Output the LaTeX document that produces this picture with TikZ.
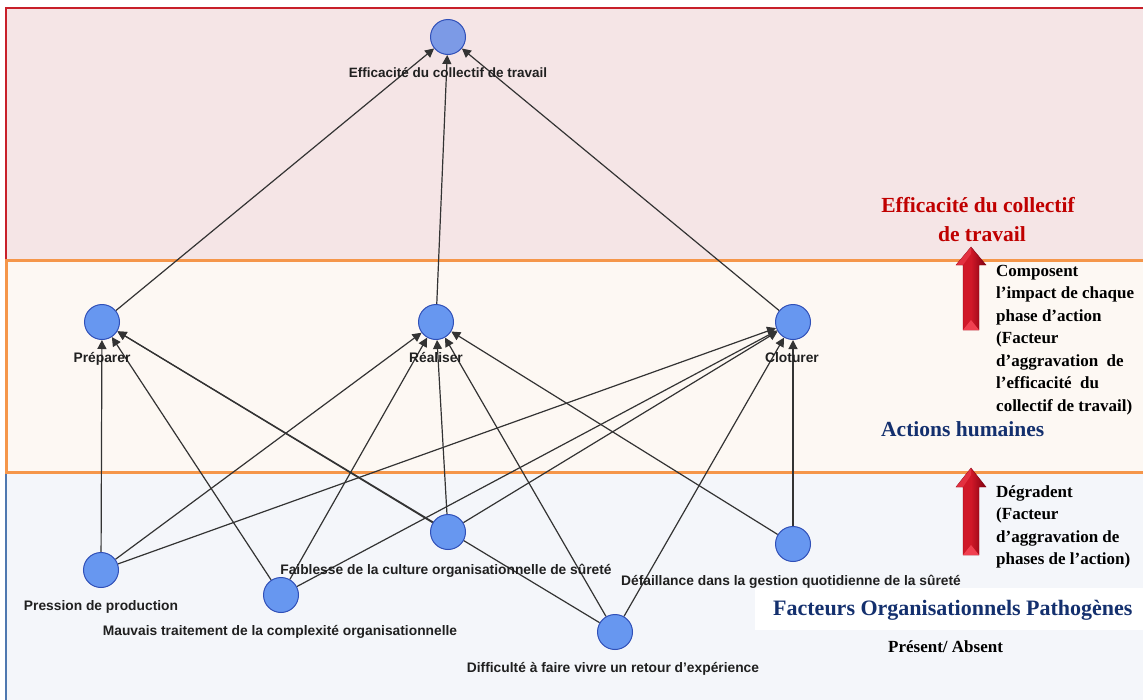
\documentclass[tikz,border=0pt]{standalone}
\usepackage{fontspec}
\setmainfont{Liberation Serif}
\newfontfamily\lblfont{Liberation Sans}
\usetikzlibrary{arrows.meta}
\pgfdeclarelayer{bands}
\pgfdeclarelayer{edges}
\pgfsetlayers{bands,edges,main}
\definecolor{redline}{HTML}{C8202A}
\definecolor{pinkfill}{HTML}{F5E5E6}
\definecolor{orline}{HTML}{F5964A}
\definecolor{orfill}{HTML}{FDF8F3}
\definecolor{blueline}{HTML}{4F78B0}
\definecolor{bluefill}{HTML}{F4F6FA}
\definecolor{nodefill}{HTML}{6797F0}
\definecolor{topfill}{HTML}{7C9AE6}
\definecolor{nodeborder}{HTML}{3050B8}
\definecolor{edgegray}{HTML}{333333}
\definecolor{lblgray}{HTML}{202020}
\definecolor{titlered}{HTML}{C00000}
\definecolor{navy}{HTML}{14306E}
\definecolor{arrdark}{HTML}{800010}
\definecolor{arrmid}{HTML}{D01828}
\definecolor{arrlight}{HTML}{F04050}
\tikzset{
  fnode/.style={circle, draw=nodeborder, fill=nodefill, line width=1pt, minimum size=35pt, inner sep=0pt},
  lbl/.style={font=\lblfont\bfseries\fontsize{13.8}{15}\selectfont, text=lblgray, inner sep=0pt, anchor=base},
  edge/.style={draw=edgegray, line width=1.2pt, -{Triangle[length=9pt,width=9pt]}},
  rtext/.style={font=\bfseries\fontsize{17}{22.5}\selectfont, align=left, inner sep=0pt, anchor=north west},
  head/.style={font=\bfseries\fontsize{21.5}{29}\selectfont, inner sep=0pt, anchor=base},
  blockarrow/.style={left color=arrmid, right color=arrdark, middle color=arrmid, draw=arrdark, line width=0.4pt},
  bevel/.style={fill=arrlight}
}
\begin{document}
\begin{tikzpicture}[x=1pt,y=-1pt]
\useasboundingbox (0,0) rectangle (1143,699);
\begin{pgfonlayer}{bands}
  \fill[white] (0,0) rectangle (1143,699);
  \fill[bluefill] (6,472) rectangle (1150,710);
  \draw[blueline, line width=2pt] (6,472) -- (6,710);
  \fill[orfill] (6,260) rectangle (1150,472);
  \fill[pinkfill] (6,8) rectangle (1150,260);
  \draw[redline, line width=2.5pt] (6,260) -- (6,8) -- (1150,8);
  \draw[orline, line width=3pt] (1150,260) -- (6,260) -- (6,472) -- (1150,472);
  \fill[white] (755,588) rectangle (1150,630);
\end{pgfonlayer}

% nodes
\node[fnode, fill=topfill] (E) at (448,37) {};
\node[fnode] (Pr) at (102,322) {};
\node[fnode] (Re) at (436,322) {};
\node[fnode] (Cl) at (793,322) {};
\node[fnode] (Pp) at (101,570) {};
\node[fnode] (Mt) at (281,595) {};
\node[fnode] (Fc) at (448,532) {};
\node[fnode] (Dg) at (793,544) {};
\node[fnode] (Dr) at (615,632) {};

% labels
\node[lbl, font=\lblfont\bfseries\fontsize{13.5}{15}\selectfont] (lE) at (448,77) {Efficacité du collectif de travail};
\node[lbl] (lPr) at (102,362) {Préparer};
\node[lbl] (lRe) at (436,362) {Réaliser};
\node[lbl] (lCl) at (792,362) {Cloturer};
\node[lbl] (lPp) at (101,610) {Pression de production};
\node[lbl] (lMt) at (280,635) {Mauvais traitement de la complexité organisationnelle};
\node[lbl] (lFc) at (446,574) {Faiblesse de la culture organisationnelle de sûreté};
\node[lbl] (lDg) at (791,585) {Défaillance dans la gestion quotidienne de la sûreté};
\node[lbl] (lDr) at (613,672) {Difficulté à faire vivre un retour d’expérience};

% edges
\begin{pgfonlayer}{edges}
  \draw[edge] (Pr) -- (E);
  \draw[edge] (Re) -- (E);
  \draw[edge] (Cl) -- (E);
  \draw[edge] (Pp) -- (Pr);
  \draw[edge] (Pp) -- (Re);
  \draw[edge] (Pp) -- (Cl);
  \draw[edge] (Mt) -- (Pr);
  \draw[edge] (Mt) -- (Re);
  \draw[edge] (Mt) -- (Cl);
  \draw[edge] (Fc) -- (Pr);
  \draw[edge] (Fc) -- (Re);
  \draw[edge] (Fc) -- (Cl);
  \draw[edge] (Dr) -- (Pr);
  \draw[edge] (Dr) -- (Re);
  \draw[edge] (Dr) -- (Cl);
  \draw[edge] (Dg) -- (Re);
  \draw[edge] (Dg) -- (Cl);
\end{pgfonlayer}

% right side texts
\node[head, text=titlered] (t1) at (978,212) {Efficacité du collectif};
\node[head, text=titlered] (t2) at (982,241) {de travail};
\node[rtext] (comp) at (996,265) {Composent\\l’impact de chaque\\phase d’action\\(Facteur\\d’aggravation\ \ de\\l’efficacité\ \ du\\collectif de travail)};
\node[head, text=navy, anchor=base west] (ah) at (881,436) {Actions humaines};
\node[rtext] (degr) at (996,485) {Dégradent\\(Facteur\\d’aggravation de\\phases de l’action)};
\node[head, text=navy, anchor=base west, font=\bfseries\fontsize{22}{29}\selectfont] (fop) at (773,615) {Facteurs Organisationnels Pathogènes};
\node[font=\bfseries\fontsize{17}{20}\selectfont, inner sep=0pt, anchor=base west] (pa) at (888,652) {Présent/ Absent};

% block arrows
\path[blockarrow] (971,247) -- (986,265) -- (979,265) -- (979,330) -- (963,330) -- (963,265) -- (956,265) -- cycle;
\fill[bevel] (963,330) -- (971,320) -- (979,330) -- cycle;
\fill[arrlight, opacity=0.6] (971,247) -- (956,265) -- (963,265) -- (971,254) -- cycle;
\path[blockarrow] (971,468) -- (986,487) -- (979,487) -- (979,555) -- (963,555) -- (963,487) -- (956,487) -- cycle;
\fill[bevel] (963,555) -- (971,545) -- (979,555) -- cycle;
\fill[arrlight, opacity=0.6] (971,468) -- (956,487) -- (963,487) -- (971,475) -- cycle;
\end{tikzpicture}
\end{document}
